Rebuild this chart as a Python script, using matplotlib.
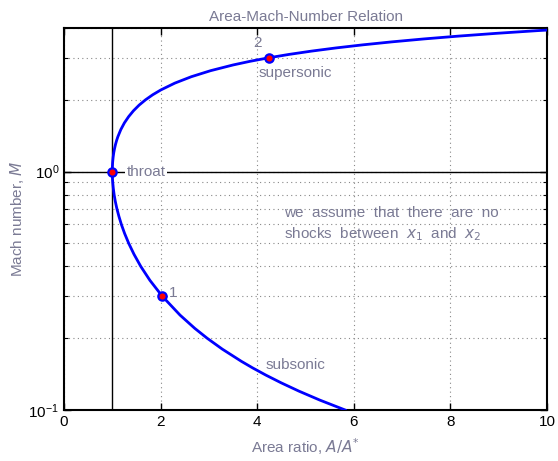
import matplotlib.pyplot as plt
import matplotlib.ticker as mticker

# Mach number and area ratio A/A* (gamma = 1.4)
mach = [0.10, 0.11, 0.12, 0.13, 0.14, 0.15, 0.16, 0.18, 0.20, 0.22, 0.25,
        0.30, 0.35, 0.40, 0.45, 0.50, 0.55, 0.60, 0.65, 0.70, 0.75, 0.80,
        0.85, 0.90, 0.92, 0.95, 0.97, 1.00, 1.03, 1.05, 1.08, 1.10, 1.15,
        1.20, 1.25, 1.30, 1.35, 1.40, 1.50, 1.60, 1.70, 1.80, 1.90, 2.00,
        2.10, 2.20, 2.35, 2.50, 2.65, 2.80, 2.90, 3.00, 3.10, 3.20, 3.30,
        3.40, 3.50, 3.60, 3.70, 3.80, 3.90, 4.00]
area_ratio = [5.822, 5.299, 4.864, 4.497, 4.182, 3.910, 3.673, 3.278, 2.964,
              2.708, 2.403, 2.035, 1.778, 1.590, 1.449, 1.340, 1.255, 1.188,
              1.136, 1.094, 1.062, 1.038, 1.021, 1.009, 1.0056, 1.002, 1.0008,
              1.000, 1.0007, 1.002, 1.0051, 1.008, 1.0175, 1.030, 1.0468,
              1.0663, 1.089, 1.115, 1.176, 1.250, 1.338, 1.439, 1.555, 1.688,
              1.837, 2.005, 2.295, 2.637, 3.036, 3.500, 3.850, 4.235, 4.657,
              5.121, 5.629, 6.184, 6.790, 7.450, 8.169, 8.951, 9.799, 10.719]

# marked points: throat, station 1, station 2
pt_x = [1.0, 2.035, 4.235]
pt_m = [1.0, 0.30, 3.0]

txt = '#7a7a94'
plt.rcParams['font.family'] = ['Liberation Sans', 'DejaVu Sans']
plt.rcParams['mathtext.fontset'] = 'dejavusans'

fig = plt.figure(figsize=(5.58, 4.61), dpi=100)
ax = fig.add_axes([0.1147, 0.1106, 0.8656, 0.8286])

ax.set_yscale('log')
ax.set_xlim(0, 10)
ax.set_ylim(0.1, 4.0)

ax.axvline(1.0, color='black', lw=1.0, zorder=2)
ax.axhline(1.0, color='black', lw=1.0, zorder=2)
ax.plot(area_ratio, mach, color='#0000ff', lw=2.0, zorder=3)
ax.plot(pt_x, pt_m, 'o', ms=6, mfc='red', mec='#0000ff', mew=1.6, zorder=4)

ax.xaxis.set_major_locator(mticker.FixedLocator([0, 2, 4, 6, 8, 10]))
ax.yaxis.set_major_locator(mticker.LogLocator(base=10))
ax.yaxis.set_minor_locator(mticker.LogLocator(base=10, subs=range(2, 10)))
ax.yaxis.set_minor_formatter(mticker.NullFormatter())
ax.grid(True, which='major', axis='x', linestyle=(0, (1, 3)), color='#888888', lw=0.8)
ax.grid(True, which='both', axis='y', linestyle=(0, (1, 3)), color='#888888', lw=0.8)
ax.tick_params(which='both', direction='in', top=True, right=True,
               labelsize=11, colors='black')
ax.tick_params(which='major', length=5, width=1)
ax.tick_params(which='minor', length=3, width=0.8)
for s in ax.spines.values():
    s.set_linewidth(1.5)

ax.text(1.3, 1.0, 'throat', color=txt, fontsize=11, va='center', ha='left',
        zorder=5, bbox=dict(facecolor='white', edgecolor='none', pad=1))
ax.text(4.0, 3.45, '2', color=txt, fontsize=11, va='center', ha='center')
ax.text(4.02, 2.58, 'supersonic', color=txt, fontsize=11, va='center', ha='left')
ax.text(2.18, 0.31, '1', color=txt, fontsize=11, va='center', ha='left')
ax.text(4.18, 0.155, 'subsonic', color=txt, fontsize=11, va='center', ha='left')
ax.text(4.55, 0.60, 'we  assume  that  there  are  no\nshocks  between  $x_1$  and  $x_2$',
        color=txt, fontsize=11, va='center', ha='left', linespacing=1.45)

ax.set_title('Area-Mach-Number Relation', color=txt, fontsize=11, pad=5)
ax.set_xlabel('Area ratio, $A/A^{*}$', color=txt, fontsize=11, labelpad=5)
ax.set_ylabel('Mach number, $M$', color=txt, fontsize=11, labelpad=2)

fig.savefig('out.png', dpi=100)
